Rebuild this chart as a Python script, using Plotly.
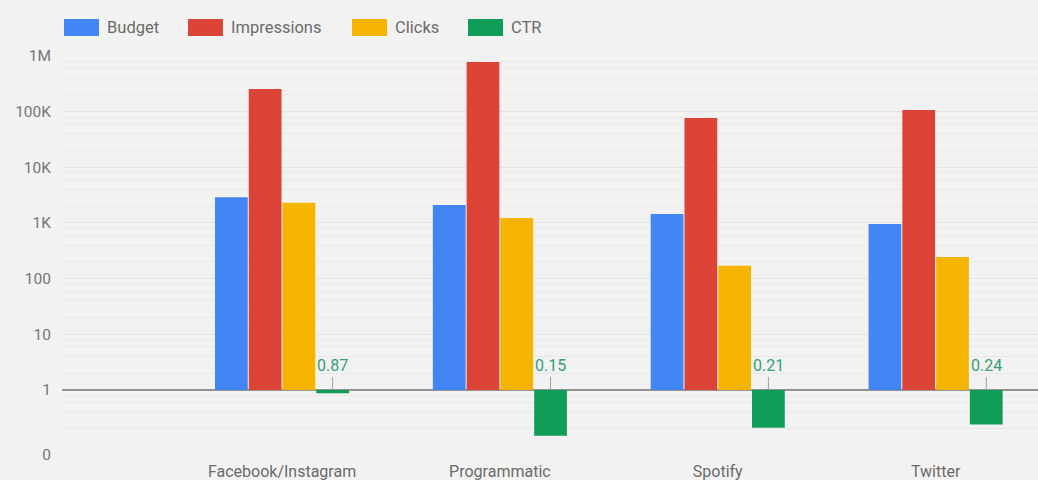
import plotly.graph_objects as go

# ---- data ----
categories = ["Facebook/Instagram", "Programmatic", "Spotify", "Twitter"]
budget = [2900, 2100, 1450, 960]
impressions = [256000, 780000, 77000, 107000]
clicks = [2300, 1230, 170, 245]
ctr = [0.87, 0.15, 0.21, 0.24]

series_names = ["Budget", "Impressions", "Clicks", "CTR"]
series_values = [budget, impressions, clicks, ctr]
series_colors = ["#4285F4", "#DB4437", "#F4B400", "#0F9D58"]

y_tick_vals = [0.068, 1, 10, 100, 1000, 10000, 100000, 1000000]
y_tick_text = ["0", "1", "10", "100", "1K", "10K", "100K", "1M"]
minor_vals = [m * 10 ** k for k in range(-1, 6) for m in (2, 4, 6, 8)]

# ---- layout constants ----
W, H = 1038, 480
ML, MR, MT, MB = 62, 0, 56, 25
BARGAP, BARGROUPGAP = 0.38, 0.03
X_RANGE = [-1.01, 3.47]
FONT = "Roboto, Arial, sans-serif"
TEXT_COLOR = "#6a6a6a"
BASELINE = 1  # bars grow from 1 on the log axis

fig = go.Figure()
for name, vals, col in zip(series_names, series_values, series_colors):
    fig.add_trace(go.Bar(
        name=name,
        x=categories,
        y=[v - BASELINE for v in vals],
        base=[BASELINE] * len(vals),
        marker=dict(color=col, line=dict(width=0)),
        customdata=vals,
        hovertemplate="%{x}<br>" + name + ": %{customdata}<extra></extra>",
        showlegend=False,
    ))

# CTR value labels with leader line (annotation y on log axis is log10 -> 0 == 1)
n_series = len(series_names)
slot = (1 - BARGAP) / n_series
ctr_offset = -(1 - BARGAP) / 2 + slot * (n_series - 0.5)
for i, v in enumerate(ctr):
    fig.add_annotation(
        x=i + ctr_offset, y=0, xref="x", yref="y",
        text=f"{v:.2f}", showarrow=True, arrowhead=0, arrowwidth=1,
        arrowcolor="#9e9e9e", ax=0, ay=-24, standoff=0,
        font=dict(family=FONT, size=16, color="#35a072"),
    )

# baseline at 1 (shapes on log axes take data values)
fig.add_shape(type="line", xref="x", x0=X_RANGE[0], x1=X_RANGE[1],
              yref="y", y0=BASELINE, y1=BASELINE,
              line=dict(color="#757575", width=1.5), layer="between")

# custom legend
plot_w = W - ML - MR
plot_h = H - MT - MB


def px_x(p):
    return (p - ML) / plot_w


def px_y(p):
    return (H - MB - p) / plot_h


legend_swatches = [(64, 99), (188, 223), (352, 387), (468, 503)]
for (x0, x1), name, col in zip(legend_swatches, series_names, series_colors):
    fig.add_shape(type="rect", xref="paper", yref="paper",
                  x0=px_x(x0), x1=px_x(x1), y0=px_y(36), y1=px_y(19),
                  fillcolor=col, line=dict(width=0))
    fig.add_annotation(xref="paper", yref="paper", x=px_x(x1 + 6), y=px_y(27.5),
                       xanchor="left", yanchor="middle", showarrow=False,
                       text=name, font=dict(family=FONT, size=16.5, color=TEXT_COLOR))

fig.update_layout(
    width=W, height=H,
    margin=dict(l=ML, r=MR, t=MT, b=MB, pad=0),
    paper_bgcolor="#f2f2f2", plot_bgcolor="#f2f2f2",
    barmode="group", bargap=BARGAP, bargroupgap=BARGROUPGAP,
    font=dict(family=FONT, color=TEXT_COLOR),
    showlegend=False,
)
fig.update_xaxes(
    type="category", range=X_RANGE,
    showgrid=False, showline=False, zeroline=False, ticks="",
    tickfont=dict(family=FONT, size=16, color=TEXT_COLOR),
    ticklabelstandoff=5,
)
fig.update_yaxes(
    type="log", range=[-1.168, 6.0],
    tickmode="array", tickvals=y_tick_vals, ticktext=y_tick_text,
    showgrid=True, gridcolor="#e4e4e4", gridwidth=1,
    minor=dict(tickmode="array", tickvals=minor_vals, showgrid=True,
               gridcolor="#e8e8e8", gridwidth=1, ticks=""),
    showline=False, zeroline=False, ticks="",
    tickfont=dict(family=FONT, size=15.5, color="#757575"),
    ticklabelstandoff=10,
)

fig.write_html(
    "out.html",
    config={"displayModeBar": False},
    post_script="document.body.style.margin='0';document.body.style.overflow='hidden';",
)
